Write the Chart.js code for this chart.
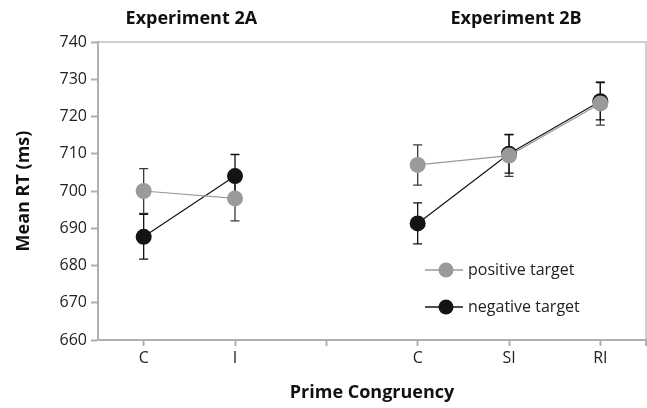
<!DOCTYPE html>
<html>
<head>
<meta charset="utf-8">
<script src="https://cdn.jsdelivr.net/npm/chart.js@4/dist/chart.umd.min.js"></script>
<style>
  body { margin: 0; background: #fff; overflow: hidden; }
  #wrap { width: 654px; height: 408px; }
</style>
</head>
<body>
<div id="wrap"><canvas id="rtChart"></canvas></div>
<script>
// categories: 2A (C, I), empty gap, 2B (C, SI, RI)
const categories = ["C", "I", "", "C", "SI", "RI"];
const positiveMeans = [700, 698, null, 707, 709.5, 723.5];
const positiveErr   = [6, 6, null, 5.4, 5.6, 5.8];
const negativeMeans = [687.7, 704, null, 691.3, 710, 724.1];
const negativeErr   = [6, 5.8, null, 5.5, 5.2, 5];
const yTicks = [660, 670, 680, 690, 700, 710, 720, 730, 740];
const panelTitles = ["Experiment 2A", "Experiment 2B"];
const legendLabels = ["positive target", "negative target"];

const FONT = "'Open Sans', 'DejaVu Sans', sans-serif";
const GRAY = '#9a9a9a';
const BLACK = '#141414';

// error bars, drawn under the markers
const errorBars = {
  id: 'errorBars',
  beforeDatasetsDraw(chart) {
    const ctx = chart.ctx, x = chart.scales.x, y = chart.scales.y;
    const sets = [[positiveMeans, positiveErr, '#3a3a3a'], [negativeMeans, negativeErr, '#111']];
    ctx.save();
    ctx.lineWidth = 1.3;
    sets.forEach(([m, e, col]) => {
      ctx.strokeStyle = col;
      m.forEach((v, i) => {
        if (v == null) return;
        const px = x.getPixelForValue(i);
        const top = y.getPixelForValue(v + e[i]);
        const bot = y.getPixelForValue(v - e[i]);
        ctx.beginPath();
        ctx.moveTo(px, top); ctx.lineTo(px, bot);
        ctx.moveTo(px - 4.5, top); ctx.lineTo(px + 4.5, top);
        ctx.moveTo(px - 4.5, bot); ctx.lineTo(px + 4.5, bot);
        ctx.stroke();
      });
    });
    ctx.restore();
  }
};

// frame, panel titles and legend
const decorations = {
  id: 'decorations',
  beforeDraw(chart) {
    const ctx = chart.ctx, a = chart.chartArea;
    ctx.save();
    ctx.strokeStyle = '#cfcfcf';
    ctx.lineWidth = 2;
    ctx.beginPath();
    ctx.moveTo(a.left, a.top); ctx.lineTo(a.right, a.top); ctx.lineTo(a.right, a.bottom);
    ctx.stroke();
    ctx.strokeStyle = '#b0b0b0';
    ctx.beginPath(); ctx.moveTo(a.right, a.bottom); ctx.lineTo(a.right, a.bottom + 6); ctx.stroke();
    ctx.restore();
  },
  afterDraw(chart) {
    const ctx = chart.ctx, x = chart.scales.x;
    ctx.save();
    ctx.fillStyle = '#111';
    ctx.font = 'bold 18px ' + FONT;
    ctx.textAlign = 'center';
    ctx.textBaseline = 'middle';
    const c2a = (x.getPixelForValue(0) + x.getPixelForValue(1)) / 2;
    const c2b = x.getPixelForValue(4);
    ctx.fillText(panelTitles[0], c2a + 2, 19);
    ctx.fillText(panelTitles[1], c2b + 7, 19);

    // legend
    const rows = [[GRAY, 270, legendLabels[0]], [BLACK, 307, legendLabels[1]]];
    ctx.font = '16px ' + FONT;
    ctx.textAlign = 'left';
    rows.forEach(([col, ly, text]) => {
      ctx.strokeStyle = col;
      ctx.lineWidth = 1.5;
      ctx.beginPath(); ctx.moveTo(425, ly); ctx.lineTo(463, ly); ctx.stroke();
      ctx.fillStyle = col;
      ctx.beginPath(); ctx.arc(446, ly, 7.5, 0, Math.PI * 2); ctx.fill();
      ctx.fillStyle = '#222';
      ctx.fillText(text, 468, ly);
    });
    ctx.restore();
  }
};

new Chart(document.getElementById('rtChart'), {
  type: 'line',
  data: {
    labels: categories,
    datasets: [{
      label: legendLabels[0],
      data: positiveMeans,
      borderColor: GRAY,
      backgroundColor: GRAY,
      borderWidth: 1.2,
      pointRadius: 8,
      pointHoverRadius: 8,
      pointBorderWidth: 0,
      spanGaps: false
    }, {
      label: legendLabels[1],
      data: negativeMeans,
      borderColor: BLACK,
      backgroundColor: BLACK,
      borderWidth: 1.2,
      pointRadius: 8,
      pointHoverRadius: 8,
      pointBorderWidth: 0,
      spanGaps: false
    }]
  },
  options: {
    responsive: true,
    maintainAspectRatio: false,
    animation: false,
    layout: { padding: { top: 42, right: 1, left: 0, bottom: 0 } },
    plugins: {
      legend: { display: false },
      tooltip: { enabled: false }
    },
    scales: {
      x: {
        offset: true,
        grid: { display: true, drawOnChartArea: false, offset: false, tickLength: 6, tickColor: '#b0b0b0', tickWidth: 2 },
        border: { color: '#b0b0b0', width: 2 },
        ticks: { color: '#222', font: { family: FONT, size: 16 }, padding: 3, maxRotation: 0 },
        title: { display: true, text: 'Prime Congruency', color: '#111', font: { family: FONT, size: 18, weight: 'bold' }, padding: { top: 11 } },
        afterFit(s) { s.height = 68; s.paddingLeft = 0; s.paddingRight = 0; }
      },
      y: {
        min: yTicks[0],
        max: yTicks[yTicks.length - 1],
        afterBuildTicks(s) { s.ticks = yTicks.map(v => ({ value: v })); },
        grid: { display: true, drawOnChartArea: false, tickLength: 7, tickColor: '#b0b0b0', tickWidth: 2 },
        border: { color: '#b0b0b0', width: 2 },
        ticks: { color: '#222', font: { family: FONT, size: 16 }, padding: 4 },
        title: { display: true, text: 'Mean RT (ms)', color: '#111', font: { family: FONT, size: 18, weight: 'bold' }, padding: { top: 13, bottom: 4 } },
        afterFit(s) { s.width = 98; }
      }
    }
  },
  plugins: [errorBars, decorations]
});
</script>
</body>
</html>
